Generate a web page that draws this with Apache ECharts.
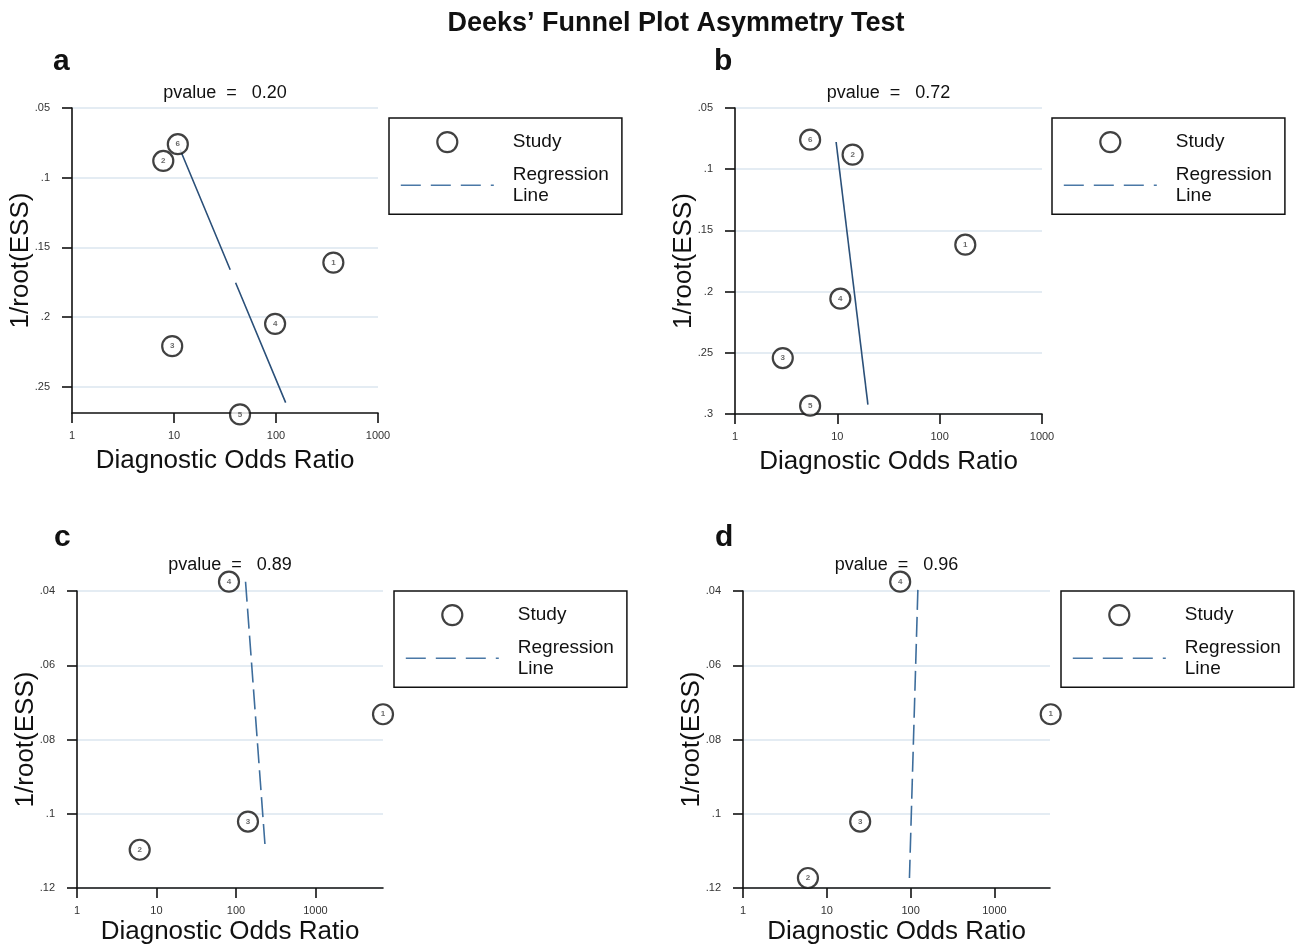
<!DOCTYPE html>
<html><head><meta charset="utf-8">
<script src="https://cdn.jsdelivr.net/npm/echarts@6/dist/echarts.min.js"></script>
<style>html,body{margin:0;padding:0;background:#fff}#c{width:1296px;height:946px}</style>
</head><body><div id="c"></div>
<script>
// ---------- data ----------
const mainTitle = 'Deeks\u2019 Funnel Plot Asymmetry Test';
const panelLetters = ['a', 'b', 'c', 'd'];
const pvalues = ['0.20', '0.72', '0.89', '0.96'];
const xAxisName = 'Diagnostic Odds Ratio';
const yAxisName = '1/root(ESS)';
const legendNames = ['Study', 'Regression Line'];

// panel a
const idsA = [1, 2, 3, 4, 5, 6];
const dorA = [365, 7.85, 9.6, 98, 44.4, 10.9];
const essA = [0.161, 0.088, 0.221, 0.205, 0.270, 0.076];
const regXA = [11.5, 137];
const regYA = [0.080, 0.269];
// panel b
const idsB = [1, 2, 3, 4, 5, 6];
const dorB = [178, 14.1, 2.93, 10.7, 5.42, 5.42];
const essB = [0.1617, 0.0881, 0.2543, 0.2058, 0.2932, 0.0759];
const regXB = [9.73, 19.9];
const regYB = [0.0778, 0.2924];
// panel c
const idsC = [1, 2, 3, 4];
const dorC = [7080, 6.15, 141.6, 81.7];
const essC = [0.0732, 0.1097, 0.1021, 0.0375];
const regXC = [132, 234];
const regYC = [0.0375, 0.1095];
// panel d
const idsD = [1, 2, 3, 4];
const dorD = [4690, 5.95, 25, 75];
const essD = [0.0732, 0.1173, 0.1021, 0.0375];
const regXD = [122, 96.8];
const regYD = [0.0397, 0.1173];

// axis ranges / ticks
const xTicks = [1, 10, 100, 1000];
const xMaxs = [1000, 1000, 7080, 4600];
const yTicksAB = [0.05, 0.1, 0.15, 0.2, 0.25];
const yTicksB = [0.05, 0.1, 0.15, 0.2, 0.25, 0.3];
const yTicksCD = [0.04, 0.06, 0.08, 0.1, 0.12];

// ---------- layout / style ----------
const FONT = "'Liberation Sans', Arial, Helvetica, sans-serif";
const panels = [
  {ids: idsA, dor: dorA, ess: essA, rx: regXA, ry: regYA, yTicks: yTicksAB, yMin: 0.05, yMax: 0.269, yInt: 0.05,
   grid: {left: 72, top: 108, width: 306, height: 305}, legend: {left: 389, top: 118}, letter: [53, 62], pY: 93, xGap: 35,
   lineType: [130, 14], lineColor: '#2b5079'},
  {ids: idsB, dor: dorB, ess: essB, rx: regXB, ry: regYB, yTicks: yTicksB, yMin: 0.05, yMax: 0.3, yInt: 0.05,
   grid: {left: 735, top: 108, width: 307, height: 306}, legend: {left: 1052, top: 118}, letter: [714, 62], pY: 93, xGap: 35,
   lineType: 'solid', lineColor: '#2b5079'},
  {ids: idsC, dor: dorC, ess: essC, rx: regXC, ry: regYC, yTicks: yTicksCD, yMin: 0.04, yMax: 0.12, yInt: 0.02,
   grid: {left: 77, top: 591, width: 306, height: 297}, legend: {left: 394, top: 591}, letter: [54, 538], pY: 565, xGap: 31,
   lineType: [20, 7], lineColor: '#3d6d9c'},
  {ids: idsD, dor: dorD, ess: essD, rx: regXD, ry: regYD, yTicks: yTicksCD, yMin: 0.04, yMax: 0.12, yInt: 0.02,
   grid: {left: 743, top: 591, width: 307, height: 297}, legend: {left: 1061, top: 591}, letter: [715, 538], pY: 565, xGap: 31,
   lineType: [20, 7], lineColor: '#3d6d9c'}
];

const axisLineStyle = {color: '#111', width: 1.6};
const fmtY = v => String(+(+v).toFixed(4)).replace(/^0\./, '.');

const grids = [], xAxes = [], yAxes = [], series = [], legends = [], graphics = [];

graphics.push({type: 'text', x: 676, y: 24, style: {text: mainTitle, font: 'bold 27px ' + FONT, fill: '#111', align: 'center', verticalAlign: 'middle'}});

panels.forEach((p, i) => {
  grids.push(Object.assign({containLabel: false}, p.grid));
  xAxes.push({
    gridIndex: i, type: 'log', logBase: 10, min: 1, max: xMaxs[i],
    axisLine: {show: true, onZero: false, lineStyle: axisLineStyle},
    axisTick: {show: true, length: 10, lineStyle: axisLineStyle, customValues: xTicks},
    axisLabel: {customValues: xTicks, fontSize: 11, color: '#333', margin: 17, fontFamily: FONT,
      formatter: v => String(Math.round(v))},
    splitLine: {show: false}, minorTick: {show: false},
    name: xAxisName, nameLocation: 'middle', nameGap: p.xGap, nameMoveOverlap: false,
    nameTextStyle: {fontSize: 26, color: '#111', fontFamily: FONT}
  });
  yAxes.push({
    gridIndex: i, type: 'value', inverse: true, min: p.yMin, max: p.yMax, interval: p.yInt,
    axisLine: {show: true, onZero: false, lineStyle: axisLineStyle},
    axisTick: {show: true, length: 10, lineStyle: axisLineStyle, customValues: p.yTicks},
    axisLabel: {customValues: p.yTicks, fontSize: 11, color: '#333', margin: 22, fontFamily: FONT, formatter: fmtY},
    splitLine: {show: true, lineStyle: {color: '#dbe6ef', width: 1.5}},
    name: yAxisName, nameLocation: 'middle', nameGap: 38, nameRotate: 90, nameMoveOverlap: false,
    nameTextStyle: {fontSize: 26, color: '#111', fontFamily: FONT}
  });
  series.push({
    type: 'line', name: legendNames[1], xAxisIndex: i, yAxisIndex: i,
    data: p.rx.map((x, k) => [x, p.ry[k]]), symbol: 'none', clip: false, z: 2,
    lineStyle: {color: p.lineColor, width: 1.6, type: p.lineType}
  });
  series.push({
    type: 'scatter', name: legendNames[0], xAxisIndex: i, yAxisIndex: i,
    data: p.ids.map((id, k) => [p.dor[k], p.ess[k], id]),
    symbol: 'circle', symbolSize: 20, clip: false, z: 3,
    itemStyle: {color: '#fff', borderColor: '#111', borderWidth: 2.2},
    label: {show: true, position: 'inside', formatter: q => q.data[2], fontSize: 8, color: '#444', fontFamily: FONT, fontWeight: 'bold'}
  });
  legends.push({
    left: p.legend.left, top: p.legend.top, orient: 'vertical',
    itemWidth: 93, itemHeight: 20, itemGap: 11, padding: [13, 13, 8, 11],
    borderColor: '#111', borderWidth: 1.5, selectedMode: false,
    textStyle: {fontSize: 19, lineHeight: 21, color: '#111', fontFamily: FONT, padding: [0, 0, 0, 14]},
    formatter: n => n === legendNames[1] ? 'Regression\nLine' : n,
    data: [
      {name: legendNames[0], icon: 'circle', itemStyle: {color: '#fff', borderColor: '#111', borderWidth: 2.2}},
      {name: legendNames[1], lineStyle: {type: [20, 10], color: '#4a78a6', width: 1.6},
       itemStyle: {color: 'rgba(0,0,0,0)', borderWidth: 0, opacity: 0}}
    ]
  });
  const cx = p.grid.left + p.grid.width / 2;
  graphics.push({type: 'text', x: cx, y: p.pY, style: {text: 'pvalue  =   ' + pvalues[i], font: '18px ' + FONT, fill: '#111', align: 'center', verticalAlign: 'middle'}});
  graphics.push({type: 'text', x: p.letter[0], y: p.letter[1], style: {text: panelLetters[i], font: 'bold 30px ' + FONT, fill: '#111', align: 'left', verticalAlign: 'middle'}});
});

const chart = echarts.init(document.getElementById('c'), null, {renderer: 'canvas'});
chart.setOption({
  animation: false,
  backgroundColor: '#fff',
  grid: grids, xAxis: xAxes, yAxis: yAxes, series: series, legend: legends,
  graphic: graphics
});
</script>
</body></html>
